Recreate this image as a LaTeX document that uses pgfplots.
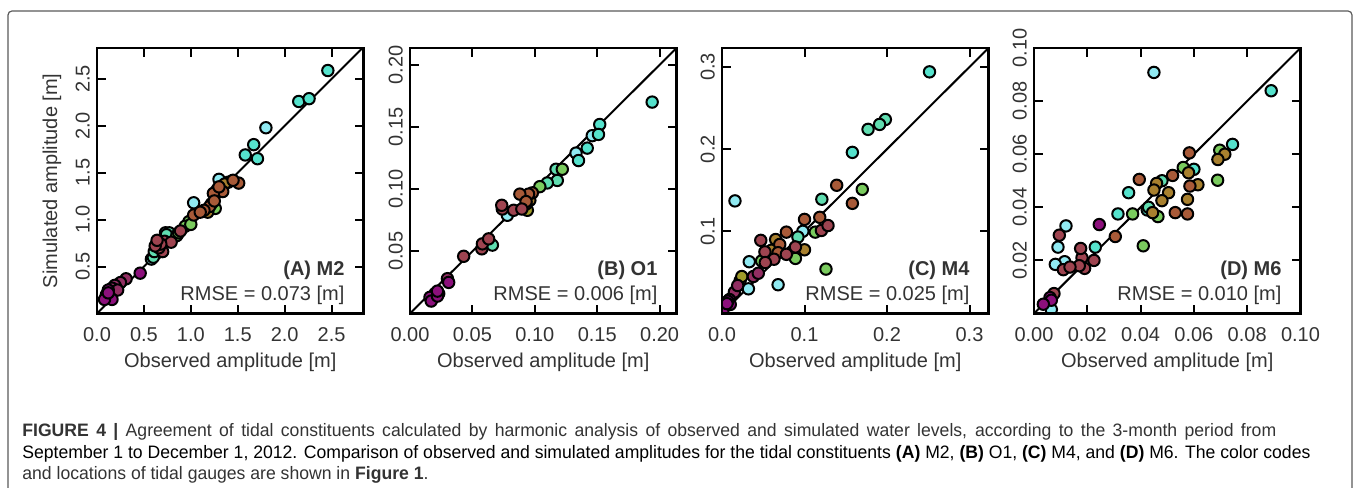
\documentclass[border=0pt]{standalone}
\usepackage{pgfplots}
\pgfplotsset{compat=1.18}
\usepackage{fontspec}
\setmainfont{Liberation Sans}
\usepackage{graphicx}

\definecolor{cpurple}{HTML}{8C107C}
\definecolor{cplum}{HTML}{922E62}
\definecolor{cmaroon}{HTML}{9E4450}
\definecolor{cbrown}{HTML}{A85A38}
\definecolor{cochre}{HTML}{A8802E}
\definecolor{colive}{HTML}{A09C2A}
\definecolor{cgreen}{HTML}{7ACB5E}
\definecolor{cmint}{HTML}{60DDB0}
\definecolor{cturq}{HTML}{55E2CC}
\definecolor{ccyan}{HTML}{90EAF2}
\definecolor{txt}{HTML}{333333}

\newsavebox\capbox
\newlength\capw

\pgfplotsset{
  tidal/.style={
    scale only axis, width=133.25pt, height=132.75pt,
    axis on top, clip marker paths=true,
    axis line style={line width=1.2pt, black},
    every tick/.style={line width=1pt, black},
    major tick length=4.5pt, tick align=inside,
    scaled ticks=false,
    /pgf/number format/assume math mode=true,
    /pgf/number format/fixed, /pgf/number format/fixed zerofill,
    tick label style={font=\fontsize{10}{12}\selectfont, text=txt},
    yticklabel style={rotate=90, anchor=south},
    xticklabel style={yshift=-3.5pt},
    xlabel={Observed amplitude [m]},
    xlabel style={at={(axis description cs:0.5,-0.205)}, anchor=base,
      font=\fontsize{10}{12}\selectfont, text=txt},
    ylabel style={at={(axis description cs:-0.15,0.5)}, anchor=base,
      font=\fontsize{10}{12}\selectfont, text=txt},
  },
  pts/.style={only marks, mark=*, mark size=2.85pt,
    mark options={draw=black, line width=1pt, fill=#1}},
  diag/.style={black, line width=1pt, no marks},
}
\tikzset{
  lbl/.style={anchor=base east, font=\fontsize{10}{12}\selectfont\bfseries, text=txt},
  rmse/.style={anchor=base east, font=\fontsize{10}{12}\selectfont, text=txt},
}

\begin{document}%
\sbox\capbox{\fontsize{9}{11}\selectfont September 1 to December 1, 2012. Comparison of observed and simulated amplitudes for the tidal constituents \textbf{(A)} M2, \textbf{(B)} O1, \textbf{(C)} M4, and \textbf{(D)} M6. The color codes}%
\setlength\capw{\wd\capbox}%
\pgfmathsetmacro\capscale{644pt/\capw}%
\pgfmathsetlengthmacro\lineone{627pt/\capscale}%
\begin{tikzpicture}
\useasboundingbox (0,0) rectangle (678.5pt,244pt);
\draw[black!65, line width=0.6pt, rounded corners=2pt] (4pt,0) -- (4pt,238.5pt) -- (676pt,238.5pt) -- (676pt,0);

% (A) M2
\begin{axis}[tidal, at={(48.5pt,87.25pt)}, anchor=south west,
  xmin=0, xmax=2.84, ymin=0, ymax=2.83,
  xtick={0,0.5,1,1.5,2,2.5}, ytick={0.5,1,1.5,2,2.5},
  /pgf/number format/precision=1,
  ylabel={Simulated amplitude [m]}]
\addplot[diag] coordinates {(0,0)(3,3)};
\addplot[pts=ccyan] coordinates {(1.80,1.98)(1.03,1.18)(1.30,1.43)(0.58,0.58)(0.73,0.86)};
\addplot[pts=cturq] coordinates {(2.46,2.59)(2.15,2.26)(2.26,2.29)(1.67,1.80)(1.58,1.69)(1.71,1.65)};
\addplot[pts=cmint] coordinates {(0.65,0.70)(0.63,0.64)(0.77,0.86)(0.60,0.60)(0.74,0.84)(0.61,0.66)};
\addplot[pts=cgreen] coordinates {(0.98,0.98)(0.94,0.93)(0.85,0.83)(1.26,1.12)(1.22,1.17)(0.87,0.86)(1.00,0.95)};
\addplot[pts=cochre] coordinates {(1.40,1.40)(1.18,1.08)(1.28,1.32)(1.36,1.38)};
\addplot[pts=cbrown] coordinates {(1.51,1.39)(1.45,1.42)(1.34,1.30)(1.24,1.28)(1.20,1.14)(1.14,1.10)(1.03,1.05)(1.25,1.20)(1.30,1.35)(1.10,1.08)};
\addplot[pts=cmaroon] coordinates {(0.72,0.77)(0.79,0.76)(0.70,0.66)(0.66,0.70)(0.89,0.88)(0.68,0.74)(0.62,0.72)(0.64,0.78)};
\addplot[pts=cplum] coordinates {(0.31,0.37)(0.25,0.33)(0.20,0.28)(0.19,0.30)(0.16,0.27)(0.22,0.25)};
\addplot[pts=cpurple] coordinates {(0.46,0.43)(0.12,0.25)(0.14,0.17)(0.10,0.20)(0.16,0.15)(0.08,0.15)(0.12,0.22)};
\node[lbl] at (axis description cs:0.955,0.145) {(A) M2};
\node[rmse] at (axis description cs:0.955,0.05) {RMSE = 0.073 [m]};
\end{axis}

% (B) O1
\begin{axis}[tidal, at={(205pt,87.25pt)}, anchor=south west,
  xmin=0, xmax=0.2135, ymin=0, ymax=0.2135,
  xtick={0,0.05,0.1,0.15,0.2}, ytick={0.05,0.1,0.15,0.2},
  /pgf/number format/precision=2]
\addplot[diag] coordinates {(0,0)(0.3,0.3)};
\addplot[pts=ccyan] coordinates {(0.146,0.143)(0.133,0.129)(0.078,0.079)};
\addplot[pts=cturq] coordinates {(0.194,0.170)(0.152,0.152)(0.151,0.144)(0.142,0.133)(0.135,0.123)};
\addplot[pts=cmint] coordinates {(0.117,0.116)(0.118,0.107)(0.110,0.105)(0.066,0.055)};
\addplot[pts=cgreen] coordinates {(0.104,0.102)(0.122,0.116)};
\addplot[pts=colive] coordinates {(0.094,0.083)};
\addplot[pts=cochre] coordinates {(0.096,0.091)(0.093,0.088)};
\addplot[pts=cbrown] coordinates {(0.098,0.097)(0.095,0.096)(0.088,0.096)(0.093,0.090)};
\addplot[pts=cmaroon] coordinates {(0.043,0.046)(0.0575,0.052)(0.058,0.056)(0.063,0.060)(0.074,0.084)(0.083,0.083)(0.0896,0.084)(0.0735,0.087)};
\addplot[pts=cplum] coordinates {(0.030,0.028)(0.023,0.016)(0.020,0.016)};
\addplot[pts=cpurple] coordinates {(0.016,0.013)(0.017,0.010)(0.022,0.014)(0.031,0.025)(0.022,0.018)};
\node[lbl] at (axis description cs:0.955,0.145) {(B) O1};
\node[rmse] at (axis description cs:0.955,0.05) {RMSE = 0.006 [m]};
\end{axis}

% (C) M4
\begin{axis}[tidal, at={(361pt,87.25pt)}, anchor=south west,
  xmin=0, xmax=0.323, ymin=0, ymax=0.323,
  xtick={0,0.1,0.2,0.3}, ytick={0.1,0.2,0.3},
  /pgf/number format/precision=1]
\addplot[diag] coordinates {(0,0)(0.4,0.4)};
\addplot[pts=ccyan] coordinates {(0.0157,0.137)(0.098,0.100)(0.033,0.063)(0.068,0.035)(0.032,0.030)};
\addplot[pts=cturq] coordinates {(0.2515,0.294)(0.158,0.196)};
\addplot[pts=cmint] coordinates {(0.198,0.236)(0.191,0.230)(0.177,0.224)(0.121,0.139)(0.092,0.093)};
\addplot[pts=cgreen] coordinates {(0.170,0.151)(0.113,0.099)(0.089,0.067)(0.048,0.064)(0.126,0.054)};
\addplot[pts=colive] coordinates {(0.022,0.040)(0.024,0.045)};
\addplot[pts=cochre] coordinates {(0.100,0.0775)(0.060,0.077)(0.065,0.090)};
\addplot[pts=cbrown] coordinates {(0.139,0.156)(0.158,0.134)(0.1185,0.117)(0.100,0.1145)(0.078,0.099)(0.070,0.084)(0.068,0.074)};
\addplot[pts=cmaroon] coordinates {(0.063,0.066)(0.052,0.075)(0.047,0.089)(0.0525,0.062)(0.078,0.072)(0.089,0.081)(0.1205,0.101)(0.1285,0.107)};
\addplot[pts=cplum] coordinates {(0.015,0.026)(0.019,0.034)(0.038,0.045)(0.044,0.049)};
\addplot[pts=cpurple] coordinates {(0.001,0.003)(0.009,0.017)(0.010,0.011)(0.007,0.015)(0.006,0.012)};
\node[lbl] at (axis description cs:0.955,0.145) {(C) M4};
\node[rmse] at (axis description cs:0.955,0.05) {RMSE = 0.025 [m]};
\end{axis}

% (D) M6
\begin{axis}[tidal, at={(517pt,87.25pt)}, anchor=south west,
  xmin=0, xmax=0.1, ymin=0, ymax=0.1,
  xtick={0,0.02,0.04,0.06,0.08,0.1}, ytick={0.02,0.04,0.06,0.08,0.1},
  /pgf/number format/precision=2]
\addplot[diag] coordinates {(0,0)(0.2,0.2)};
\addplot[pts=ccyan] coordinates {(0.045,0.0908)(0.012,0.033)(0.0115,0.0195)(0.009,0.025)(0.008,0.0185)(0.0065,0.0015)};
\addplot[pts=cturq] coordinates {(0.089,0.0839)(0.0745,0.0637)(0.060,0.0543)(0.0425,0.039)(0.0355,0.0455)(0.0315,0.0375)(0.023,0.025)};
\addplot[pts=cmint] coordinates {(0.048,0.050)(0.043,0.040)};
\addplot[pts=cgreen] coordinates {(0.0697,0.0615)(0.0689,0.0502)(0.0465,0.0365)(0.041,0.0255)(0.037,0.0375)(0.056,0.055)};
\addplot[pts=cochre] coordinates {(0.0716,0.060)(0.069,0.058)(0.058,0.053)(0.0615,0.0485)(0.0576,0.043)(0.0505,0.0455)(0.048,0.0425)(0.046,0.049)(0.045,0.0465)(0.0445,0.038)};
\addplot[pts=cbrown] coordinates {(0.0305,0.029)(0.0395,0.0505)(0.0583,0.0605)(0.0585,0.048)(0.0576,0.0375)(0.053,0.038)(0.052,0.052)};
\addplot[pts=cmaroon] coordinates {(0.0075,0.0075)(0.0095,0.0295)(0.011,0.0165)(0.0225,0.020)(0.018,0.021)(0.019,0.017)(0.0175,0.0245)(0.017,0.018)(0.0135,0.0175)};
\addplot[pts=cpurple] coordinates {(0.006,0.006)(0.0065,0.005)(0.0035,0.0035)(0.0245,0.0335)};
\node[lbl] at (axis description cs:0.955,0.145) {(D) M6};
\node[rmse] at (axis description cs:0.955,0.05) {RMSE = 0.010 [m]};
\end{axis}

% caption
\begin{scope}[every node/.style={anchor=base west, inner sep=0pt, text=txt, font=\fontsize{9}{11}\selectfont}]
\node at (11pt,25.5pt) {\scalebox{\capscale}[1]{\makebox[\lineone][s]{\textbf{FIGURE 4 |} Agreement of tidal constituents calculated by harmonic analysis of observed and simulated water levels, according to the 3-month period from}}};
\node at (11pt,14.5pt) {\scalebox{\capscale}[1]{\usebox\capbox}};
\node at (11pt,4pt) {\scalebox{\capscale}[1]{and locations of tidal gauges are shown in \textbf{Figure 1}.}};
\end{scope}
\end{tikzpicture}%
\end{document}
